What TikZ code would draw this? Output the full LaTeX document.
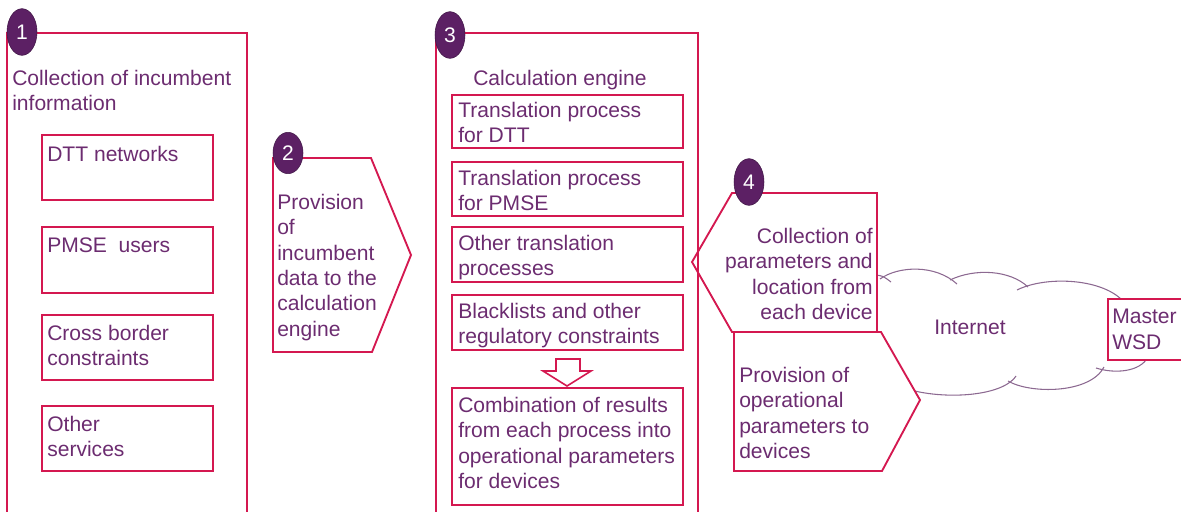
\documentclass[tikz,border=0pt]{standalone}
\usepackage{fontspec}
\setmainfont{Liberation Sans}
\usepackage{xcolor}
\usepackage{tikz}
\usetikzlibrary{shapes.geometric}
\definecolor{edgered}{RGB}{212,24,80}
\definecolor{dotpurple}{RGB}{92,32,100}
\definecolor{txtpurple}{RGB}{108,44,112}
\definecolor{cloudgrey}{RGB}{140,105,145}

\begin{document}
\begin{tikzpicture}[x=0.75pt, y=-0.75pt]
        \tikzset{frame/.style = {draw=edgered, line width=1.4pt}}
        \tikzset{lbl/.style = {anchor=north west, inner sep=0pt, align=left, text=txtpurple, font=\fontsize{15.8}{19}\selectfont}}
        \tikzset{num/.style = {ellipse, fill=dotpurple, draw=dotpurple!70!black, minimum width=22.5pt, minimum height=35pt, inner sep=0pt, text=white, font=\fontsize{15.8}{19}\selectfont}}
        \tikzset{cloudline/.style = {draw=cloudgrey, line width=0.8pt}}

        \useasboundingbox (0,0) rectangle (1181,511);
        \clip (0,0) rectangle (1181,511);

        % cloud
        \draw[cloudline] (876,275) .. controls (883,276) .. (891,282);
        \draw[cloudline] (880,279) .. controls (898,266) and (935,264) .. (957,284);
        \draw[cloudline] (950,280) .. controls (975,268) and (1010,270) .. (1028,287);
        \draw[cloudline] (1017,290) .. controls (1045,276) and (1100,278) .. (1122,300);
        \draw[cloudline] (1148,357) .. controls (1140,372) and (1115,374) .. (1096,368);
        \draw[cloudline] (1104,367) .. controls (1090,394) and (1030,394) .. (1008,381);
        \draw[cloudline] (1016,376) .. controls (1000,400) and (925,400) .. (895,384);
        \node[lbl, anchor=center] (inet) at (970,327) {Internet};

        \draw[frame, fill=white] (1108,299) rectangle (1190,360);
        \node[lbl] (mwsd) at (1112,309) {Master\\WSD};

        % 4
        \draw[frame, fill=white] (732,193) -- (877,193) -- (877,332) -- (732,332) -- (692,262) -- cycle;
        \draw[frame, fill=white] (734,332) -- (881,332) -- (920,400) -- (882,471) -- (734,471) -- cycle;
        \node[lbl, anchor=north east, align=right] (t4) at (873,228) {Collection of\\parameters and\\location from\\each device};
        \node[lbl] (t5) at (739,367) {Provision of\\operational\\parameters to\\devices};

        % 1
        \draw[frame] (7,33) rectangle (247,530);
        \node[lbl] (t1) at (12,70) {Collection of incumbent\\information};
        \draw[frame] (42,135) rectangle (213,200);
        \draw[frame] (42,227) rectangle (213,293);
        \draw[frame] (42,315) rectangle (213,380);
        \draw[frame] (42,406) rectangle (213,471);
        \node[lbl] (dttnet) at (47,146) {DTT networks};
        \node[lbl] (pmseusr) at (47,238) {PMSE\ \ users};
        \node[lbl] (xborder) at (47,325) {Cross border\\constraints};
        \node[lbl] (othsvc) at (47,416) {Other\\services};

        % 2
        \draw[frame] (273,158) -- (371,158) -- (411,255) -- (372,352) -- (273,352) -- cycle;
        \node[lbl] (t2) at (277,194) {Provision\\of\\incumbent\\data to the\\calculation\\engine};

        % 3
        \draw[frame] (436,33) rectangle (698,530);
        \node[lbl] (t3) at (473,70) {Calculation engine};
        \draw[frame] (452,95) rectangle (683,148);
        \draw[frame] (452,162) rectangle (683,216);
        \draw[frame] (452,227) rectangle (683,282);
        \draw[frame] (452,295) rectangle (683,350);
        \draw[frame] (452,388) rectangle (683,505);
        \node[lbl] (trdtt) at (458,102) {Translation process\\for DTT};
        \node[lbl] (trpmse) at (458,170) {Translation process\\for PMSE};
        \node[lbl] (troth) at (458,235) {Other translation\\processes};
        \node[lbl] (black) at (458,303) {Blacklists and other\\regulatory constraints};
        \node[lbl] (combi) at (458,397) {Combination of results\\from each process into\\operational parameters\\for devices};
        \draw[frame, line width=1.2pt] (556,359) -- (580,359) -- (580,371) -- (591,371) -- (567,386) -- (543,371) -- (556,371) -- cycle;

        \node[num] (n1) at (22,32) {1};
        \node[num, minimum height=31pt] (n2) at (288,153) {2};
        \node[num] (n3) at (450,35) {3};
        \node[num] (n4) at (749,182) {4};

        \end{tikzpicture}
\end{document}
